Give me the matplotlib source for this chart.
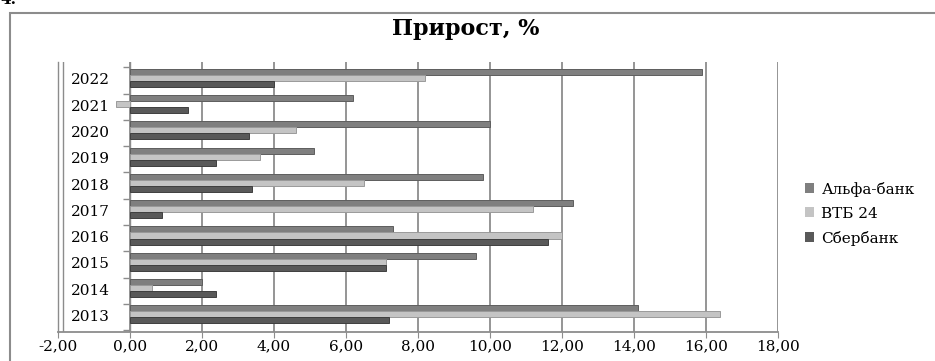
import numpy as np
import matplotlib.pyplot as plt
from matplotlib.patches import Patch, Rectangle

years = ['2013', '2014', '2015', '2016', '2017', '2018', '2019', '2020', '2021', '2022']
alfa = [14.1, 2.0, 9.6, 7.3, 12.3, 9.8, 5.1, 10.0, 6.2, 15.9]
vtb = [16.4, 0.6, 7.1, 12.0, 11.2, 6.5, 3.6, 4.6, -0.4, 8.2]
sber = [7.2, 2.4, 7.1, 11.6, 0.9, 3.4, 2.4, 3.3, 1.6, 4.0]
series = ['Альфа-банк', 'ВТБ 24', 'Сбербанк']
colors = ['#7f7f7f', '#c4c4c4', '#595959']
edges = ['#5e5e5e', '#9a9a9a', '#3f3f3f']
xticks = np.arange(-2, 19, 2)

plt.rcParams['font.family'] = ['DejaVu Serif']

W, H = 935, 361
fig = plt.figure(figsize=(W / 100, H / 100), dpi=100)

# внешняя рамка
fig.patches.append(Rectangle((10 / W, -0.1), 1.1, 1.1 - 13 / H, transform=fig.transFigure,
                             fill=False, ec='#8c8c8c', lw=1.5))
fig.text(0.0, 1.02, '4.', fontsize=11, fontweight='bold', va='top')

x0, x1 = 58, 778
ytop, ybot = 62, 332
ax = fig.add_axes([x0 / W, 1 - ybot / H, (x1 - x0) / W, (ybot - ytop) / H])

y = np.arange(len(years))
off = 0.1
h = 0.23
for k, vals in enumerate([alfa, vtb, sber]):
    ax.barh(y + off + (1 - k) * 0.23, vals, height=h, color=colors[k],
            edgecolor=edges[k], linewidth=0.7, zorder=3)

ax.set_xlim(-2, 18)
ax.set_ylim(-0.57, 9.70)

for v in xticks[1:]:
    ax.axvline(v, color='#8c8c8c', lw=1.3, zorder=1)
# категорийная ось и засечки
ax.axvline(0, color='#8c8c8c', lw=1.0, zorder=2)
ax.hlines(np.arange(-0.5, 10, 1), -0.2, 0, color='#8c8c8c', lw=1.0)
# боковая стенка
ax.axvline(-1.86, color='#8c8c8c', lw=1.0)

for s in ['top', 'right']:
    ax.spines[s].set_visible(False)
ax.spines['left'].set_color('#8c8c8c')
ax.spines['bottom'].set_color('#8c8c8c')
ax.spines['left'].set_linewidth(1.0)
ax.spines['bottom'].set_linewidth(1.3)

ax.set_xticks(xticks)
ax.set_xticklabels([f'{v:.2f}'.replace('.', ',') for v in xticks], fontsize=11)
ax.tick_params(axis='x', length=4, color='#8c8c8c', pad=1)
ax.set_yticks([])
for i, yr in enumerate(years):
    ax.text(-0.55, i, yr, fontsize=11, ha='right', va='center')

fig.text(466 / W, 1 - 29 / H, 'Прирост, %', fontsize=16, fontweight='bold',
         ha='center', va='center')

handles = [Patch(facecolor=c, edgecolor='none') for c in colors]
fig.legend(handles, series, loc='upper left', bbox_to_anchor=(797 / W, 1 - 174 / H),
           frameon=False, fontsize=11, handlelength=0.6, handleheight=0.6,
           handletextpad=0.5, labelspacing=0.65, borderpad=0)

fig.savefig('out.png', dpi=100)
